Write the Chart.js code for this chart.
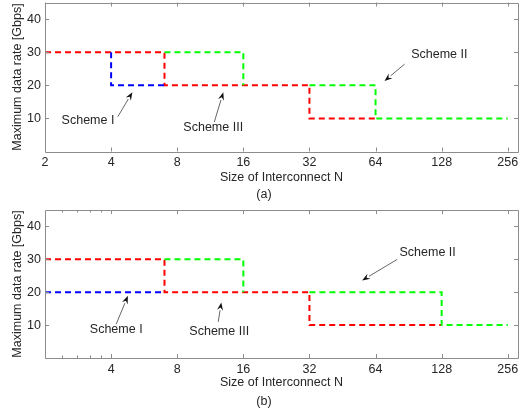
<!DOCTYPE html>
<html>
<head>
<meta charset="utf-8">
<script src="https://cdn.jsdelivr.net/npm/chart.js@4/dist/chart.umd.min.js"></script>
<style>
html,body{margin:0;padding:0;background:#fff;}
#wrap{position:relative;width:521px;height:412px;overflow:hidden;background:#fff;}
canvas{position:absolute;left:0;}
</style>
</head>
<body>
<div id="wrap">
<canvas id="ca" width="521" height="205" style="top:0px"></canvas>
<canvas id="cb" width="521" height="207" style="top:205px"></canvas>
</div>
<script>
// ---- data ----
const xTicksA = [2, 4, 8, 16, 32, 64, 128, 256];
const xTicksB = [4, 8, 16, 32, 64, 128, 256];
const xMinorB = [2.4, 2.8, 3.2, 3.6];
const yTicks = [10, 20, 30, 40];

// chart (a)
const redAx = [2, 7, 7, 32, 32, 64];
const redAy = [30, 30, 20, 20, 10, 10];
const blueAx = [4, 4, 7];
const blueAy = [30, 20, 20];
const green1Ax = [7, 16, 16];
const green1Ay = [30, 30, 20];
const green2Ax = [32, 64, 64, 256];
const green2Ay = [20, 20, 10, 10];

// chart (b)
const redBx = [2, 7, 7, 32, 32, 128];
const redBy = [30, 30, 20, 20, 10, 10];
const blueBx = [2, 7];
const blueBy = [20, 20];
const green1Bx = [7, 16, 16];
const green1By = [30, 30, 20];
const green2Bx = [32, 128, 128, 256];
const green2By = [20, 20, 10, 10];

// annotations (data coordinates)
const notesA = [
  {text: 'Scheme I',   x: 3.14,  y: 9.2,  tail: [4.29, 10.5], tip: [5.0, 17.9]},
  {text: 'Scheme III', x: 11.67, y: 7.1,  tail: [11.8, 8.9],  tip: [12.97, 17.9]},
  {text: 'Scheme II',  x: 124.9, y: 29.2, tail: [86.8, 26.4], tip: [70.3, 21.3]}
];
const notesB = [
  {text: 'Scheme I',   x: 4.22,  y: 8.5,  tail: [4.22, 10.3], tip: [4.77, 18.9]},
  {text: 'Scheme III', x: 12.43, y: 8.0,  tail: [12.3, 11.0], tip: [12.7, 16.9]},
  {text: 'Scheme II',  x: 110.5, y: 32.2, tail: [80.4, 30.0], tip: [55.6, 23.6]}
];

// ---- helpers ----
const FONT = "'Liberation Sans', Arial, sans-serif";
const TXT = '#262626';
const AXC = '#8c8c8c';
Chart.defaults.font.family = FONT;
Chart.defaults.font.size = 12.5;
Chart.defaults.color = TXT;

function pts(xs, ys) { return xs.map((x, i) => ({x: x, y: ys[i]})); }
function ds(xs, ys, color) {
  return {data: pts(xs, ys), borderColor: color, backgroundColor: color,
    borderWidth: 2, borderDash: [6, 4], pointRadius: 0, tension: 0, fill: false, borderCapStyle: 'butt'};
}

const framePlugin = {
  id: 'frame',
  afterDraw(chart, args, opts) {
    const {ctx, chartArea: a, scales} = chart;
    const x = scales.x, y = scales.y;
    ctx.save();
    ctx.strokeStyle = AXC;
    ctx.lineWidth = 1;
    ctx.beginPath();
    ctx.rect(Math.round(a.left) + 0.5, Math.round(a.top) + 0.5,
             Math.round(a.right - a.left), Math.round(a.bottom - a.top));
    const L = 4;
    opts.major.forEach(v => {
      const px = Math.round(x.getPixelForValue(v)) + 0.5;
      ctx.moveTo(px, a.bottom); ctx.lineTo(px, a.bottom - L);
      ctx.moveTo(px, a.top); ctx.lineTo(px, a.top + L);
    });
    (opts.minor || []).forEach(v => {
      const px = Math.round(x.getPixelForValue(v)) + 0.5;
      ctx.moveTo(px, a.bottom); ctx.lineTo(px, a.bottom - 2.5);
      ctx.moveTo(px, a.top); ctx.lineTo(px, a.top + 2.5);
    });
    yTicks.forEach(v => {
      const py = Math.round(y.getPixelForValue(v)) + 0.5;
      ctx.moveTo(a.left, py); ctx.lineTo(a.left + L, py);
      ctx.moveTo(a.right, py); ctx.lineTo(a.right - L, py);
    });
    ctx.stroke();
    ctx.restore();
  }
};

const notePlugin = {
  id: 'notes',
  afterDatasetsDraw(chart, args, opts) {
    const {ctx, scales} = chart;
    const x = scales.x, y = scales.y;
    ctx.save();
    opts.items.forEach(n => {
      ctx.fillStyle = TXT;
      ctx.font = '12.5px ' + FONT;
      ctx.textAlign = 'center';
      ctx.textBaseline = 'middle';
      ctx.fillText(n.text, x.getPixelForValue(n.x), y.getPixelForValue(n.y));
      const x0 = x.getPixelForValue(n.tail[0]), y0 = y.getPixelForValue(n.tail[1]);
      const x1 = x.getPixelForValue(n.tip[0]), y1 = y.getPixelForValue(n.tip[1]);
      const ang = Math.atan2(y1 - y0, x1 - x0);
      const hl = 8, hw = 3;
      const bx = x1 - hl * Math.cos(ang), by = y1 - hl * Math.sin(ang);
      ctx.strokeStyle = '#666';
      ctx.lineWidth = 1;
      ctx.beginPath(); ctx.moveTo(x0, y0); ctx.lineTo(bx, by); ctx.stroke();
      ctx.fillStyle = '#111';
      ctx.beginPath();
      ctx.moveTo(x1, y1);
      ctx.lineTo(bx + hw * Math.sin(ang), by - hw * Math.cos(ang));
      ctx.lineTo(bx + 0.35 * hl * Math.cos(ang), by + 0.35 * hl * Math.sin(ang));
      ctx.lineTo(bx - hw * Math.sin(ang), by + hw * Math.cos(ang));
      ctx.closePath(); ctx.fill();
    });
    ctx.restore();
  }
};

function makeChart(id, datasets, ticks, minor, notes, caption, pad, xH, capPad) {
  return new Chart(document.getElementById(id), {
    type: 'line',
    data: {datasets: datasets},
    plugins: [framePlugin, notePlugin],
    options: {
      responsive: false, animation: false, devicePixelRatio: 1,
      layout: {padding: pad},
      plugins: {
        legend: {display: false}, tooltip: {enabled: false},
        title: {display: true, text: caption, position: 'bottom', color: TXT,
          font: {size: 12.5, weight: 'normal', lineHeight: 1.2}, padding: capPad},
        frame: {major: ticks, minor: minor},
        notes: {items: notes}
      },
      scales: {
        x: {
          type: 'logarithmic', min: 2, max: 285,
          grid: {display: false, drawTicks: false}, border: {display: false},
          afterBuildTicks: s => { s.ticks = ticks.map(v => ({value: v})); },
          afterFit: s => { s.height = xH; s.paddingLeft = 0; s.paddingRight = 0; },
          ticks: {autoSkip: false, maxRotation: 0, padding: 4, color: TXT,
            callback: v => String(v)},
          title: {display: true, text: 'Size of Interconnect N', color: TXT,
            padding: {top: 0, bottom: 0}, font: {size: 12.5, lineHeight: 1.2}}
        },
        y: {
          type: 'linear', min: 0, max: 45,
          grid: {display: false, drawTicks: false}, border: {display: false},
          afterBuildTicks: s => { s.ticks = yTicks.map(v => ({value: v})); },
          afterFit: s => { s.width = 35; s.paddingTop = 0; s.paddingBottom = 0; },
          ticks: {padding: 4, color: TXT, callback: v => String(v)},
          title: {display: true, text: 'Maximum data rate [Gbps]', color: TXT,
            padding: {top: 0, bottom: 0}, font: {size: 12.5, lineHeight: 1.2}}
        }
      }
    }
  });
}

makeChart('ca', [
  ds(blueAx, blueAy, '#0000ff'),
  ds(green1Ax, green1Ay, '#00ff00'),
  ds(green2Ax, green2Ay, '#00ff00'),
  ds(redAx, redAy, '#ff0000')
], xTicksA, [], notesA, '(a)', {top: 2.5, right: 3, left: 10, bottom: 0}, 33.5, {top: 2, bottom: 3});

makeChart('cb', [
  ds(blueBx, blueBy, '#0000ff'),
  ds(green1Bx, green1By, '#00ff00'),
  ds(green2Bx, green2By, '#00ff00'),
  ds(redBx, redBy, '#ff0000')
], xTicksB, xMinorB, notesB, '(b)', {top: 5, right: 3, left: 10, bottom: 0}, 32, {top: 4, bottom: 3});
</script>
</body>
</html>
